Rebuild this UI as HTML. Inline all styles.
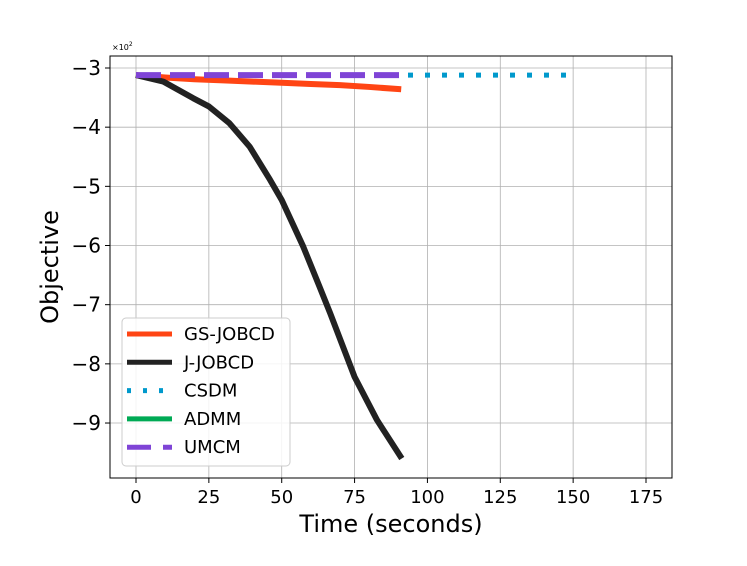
<!DOCTYPE html>
<html><head><meta charset="utf-8"><style>
body{margin:0;background:#fff}
svg text{font-family:"DejaVu Sans","Liberation Sans",sans-serif;fill:#000}
</style></head><body>
<svg width="747" height="561" xmlns="http://www.w3.org/2000/svg">
<g id="grid"></g>
<g id="series"></g>
<rect x="110" y="56" width="562" height="422" fill="none" stroke="#000" stroke-width="1"/>
<g id="ticks"></g>
<text x="112" y="50" font-size="8">×10<tspan dy="-4" font-size="6">2</tspan></text>
<text x="391" y="532" font-size="24" text-anchor="middle">Time (seconds)</text>
<text transform="translate(58,267) rotate(-90)" font-size="24" text-anchor="middle">Objective</text>
<g>
<rect x="122" y="318" width="168" height="148" rx="4" fill="#fff" fill-opacity="0.85" stroke="#ccc"/>
<g id="legend"></g>
</g>
</svg>
<script>
const xTicks=[0,25,50,75,100,125,150,175];
const yTicks=[-3,-4,-5,-6,-7,-8,-9];
const gsT=[0,10,20,30,40,50,60,70,80,91];
const gsV=[-3.12,-3.16,-3.19,-3.21,-3.23,-3.25,-3.27,-3.29,-3.32,-3.36];
const jT=[0,9.4,19.6,25,32,39,46,50,57.4,63,66.6,75,82.7,91.2];
const jV=[-3.12,-3.23,-3.51,-3.65,-3.93,-4.33,-4.89,-5.23,-6.02,-6.7,-7.14,-8.22,-8.95,-9.6];
const csT=[0,148];const csV=[-3.12,-3.12];
const adT=[0,0.5];const adV=[-3.12,-3.12];
const umT=[0,91];const umV=[-3.12,-3.12];
const legendLabels=["GS-JOBCD","J-JOBCD","CSDM","ADMM","UMCM"];
const X=t=>136+t*(510/175);
const Y=v=>68+(-3-v)*59.17;
const NS="http://www.w3.org/2000/svg";
function mk(tag,attrs,parent){const e=document.createElementNS(NS,tag);for(const k in attrs)e.setAttribute(k,attrs[k]);parent.appendChild(e);return e;}
const grid=document.getElementById('grid'),ticks=document.getElementById('ticks'),ser=document.getElementById('series'),leg=document.getElementById('legend');
xTicks.forEach(t=>{const x=X(t);
const g=mk('line',{x1:x,x2:x,y1:56,y2:478,stroke:'#b0b0b0','stroke-width':0.8},grid);


const tk=mk('line',{x1:x,x2:x,y1:478,y2:483,stroke:'#000'},ticks);


const tx=mk('text',{x:x,y:503,'font-size':18,'text-anchor':'middle'},ticks);tx.textContent=t;


});
yTicks.forEach(v=>{const y=Y(v);
const g=mk('line',{x1:110,x2:672,y1:y,y2:y,stroke:'#b0b0b0','stroke-width':0.8},grid);


const tk=mk('line',{x1:105,x2:110,y1:y,y2:y,stroke:'#000'},ticks);


const tx=mk('text',{x:101,y:y+7,'font-size':20,'text-anchor':'end'},ticks);tx.textContent='\u2212'+Math.abs(v);


});
const styles=[
 {T:gsT,V:gsV,c:'#ff4514',w:6,d:''},
 {T:jT,V:jV,c:'#222222',w:6,d:''},
 {T:csT,V:csV,c:'#0099cc',w:5,d:'5 12'},
 {T:adT,V:adV,c:'#00aa55',w:5,d:''},
 {T:umT,V:umV,c:'#7f44d6',w:6,d:'25 9'}
];
const order=[3,0,1,2,4];
order.forEach(i=>{const s=styles[i];
const p=mk('polyline',{points:s.T.map((t,k)=>X(t)+','+Y(s.V[k])).join(' '),fill:'none',stroke:s.c,'stroke-width':s.w,'stroke-dasharray':s.d,'stroke-linejoin':'round'},ser);


});
legendLabels.forEach((lab,i)=>{const s=styles[i];const y=334+i*28.3;
const l=mk('line',{x1:127,x2:172,y1:y,y2:y,stroke:s.c,'stroke-width':5,'stroke-dasharray':s.d?(i==2?'4 12':'24 12'):''},leg);


const t=mk('text',{x:184,y:y+6,'font-size':18},leg);t.textContent=lab;


});
</script>
</body></html>
